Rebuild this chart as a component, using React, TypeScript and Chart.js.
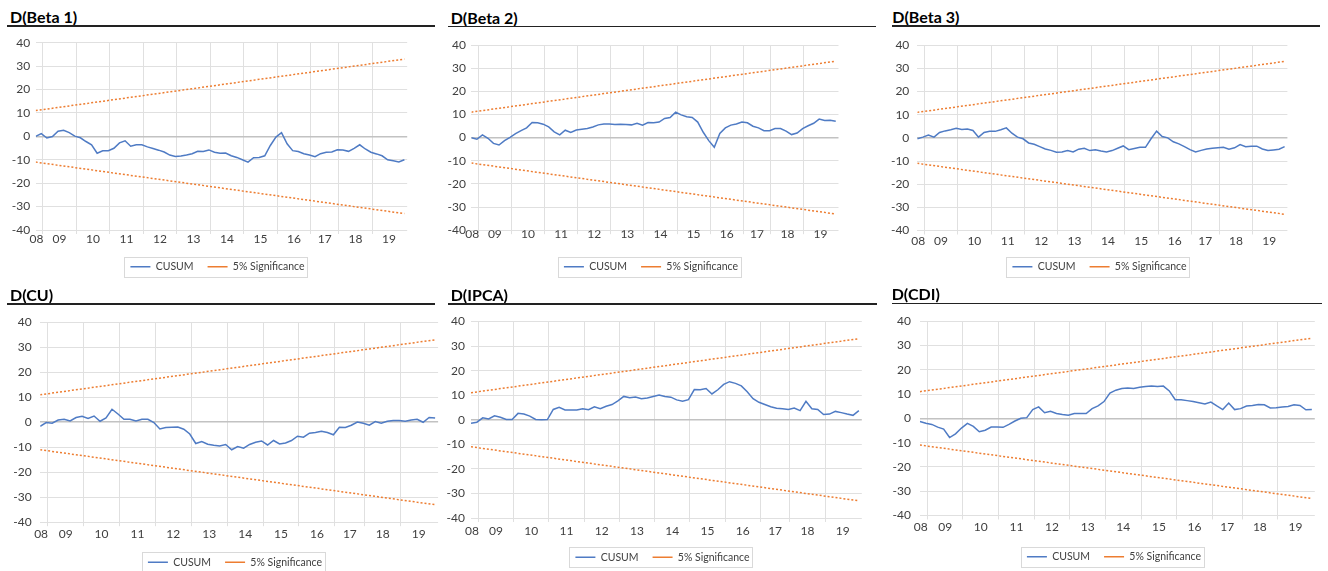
import React, { useEffect, useRef } from "react";
import { Chart, registerables } from "chart.js";

Chart.register(...registerables);

// ---------------- data ----------------
// observation index (every second monthly observation, Oct-2008 .. 2019)
const observationIndex: number[] = Array.from({ length: 67 }, (_, k) => k * 2);

const yearLabels = ["08", "09", "10", "11", "12", "13", "14", "15", "16", "17", "18", "19"];
const yearLabelPositions = [0.3, 8.5, 20.5, 32.5, 44.5, 56.5, 68.5, 80.5, 92.5, 103.5, 114.5, 126.5];
const yearBoundaries = [2.5, 14.5, 26.5, 38.5, 50.5, 62.5, 74.5, 86.5, 98.5, 108.5, 120.5];

const significanceX = [0, 132];
const significanceUpper = [11.0, 33.0];
const significanceLower = [-11.0, -33.0];

const cusumBeta1 = [
  0.0, 1.2, -0.7, -0.1, 2.2, 2.6, 1.6, 0.1, -0.6, -2.2,
  -3.6, -7.2, -6.2, -6.1, -5.1, -2.8, -1.9, -4.2, -3.6, -3.6,
  -4.5, -5.2, -5.9, -6.7, -8.0, -8.6, -8.4, -8.0, -7.4, -6.4,
  -6.5, -5.8, -6.8, -7.2, -7.1, -8.3, -9.0, -10.0, -11.0, -9.1,
  -9.0, -8.3, -3.9, -0.3, 1.6, -3.2, -6.1, -6.5, -7.4, -8.0,
  -8.7, -7.4, -6.8, -6.7, -5.7, -5.8, -6.4, -5.1, -3.6, -5.4,
  -6.8, -7.5, -8.3, -10.0, -10.4, -10.9, -10.0,
];
const cusumBeta2 = [
  -0.1, -0.7, 1.2, -0.3, -2.5, -3.2, -1.3, 0.1, 1.7, 3.0,
  4.2, 6.5, 6.4, 5.8, 4.6, 2.5, 1.2, 3.2, 2.2, 3.3,
  3.6, 3.9, 4.6, 5.5, 5.9, 5.9, 5.7, 5.8, 5.7, 5.5,
  6.2, 5.4, 6.5, 6.4, 6.7, 8.3, 8.7, 11.0, 9.8, 9.0,
  8.7, 6.7, 2.3, -1.3, -4.2, 1.8, 4.2, 5.4, 5.9, 6.7,
  6.4, 4.9, 4.2, 3.0, 3.0, 3.9, 3.9, 2.8, 1.3, 2.0,
  3.9, 5.1, 6.2, 8.0, 7.4, 7.5, 7.1,
];
const cusumBeta3 = [
  -0.4, 0.3, 1.2, 0.3, 2.3, 3.0, 3.5, 4.1, 3.6, 3.8,
  3.2, 0.3, 2.3, 2.8, 2.8, 3.5, 4.3, 2.0, 0.3, -0.4,
  -2.2, -2.8, -3.8, -4.8, -5.4, -6.2, -6.1, -5.5, -6.1, -4.9,
  -4.5, -5.5, -5.1, -5.7, -6.1, -5.5, -4.5, -3.5, -5.1, -4.6,
  -4.1, -4.1, -0.4, 2.9, 0.6, 0.0, -1.7, -2.6, -3.8, -5.1,
  -6.1, -5.4, -4.8, -4.5, -4.3, -4.1, -4.9, -4.3, -2.9, -3.8,
  -3.6, -3.6, -4.8, -5.5, -5.2, -4.9, -3.8,
];
const cusumCU = [
  -1.6, -0.1, -0.4, 0.9, 1.2, 0.5, 1.9, 2.4, 1.5, 2.5,
  0.4, 1.7, 5.2, 3.3, 1.2, 1.2, 0.5, 1.2, 1.2, -0.1,
  -2.7, -2.1, -2.0, -1.9, -2.8, -4.7, -8.5, -7.7, -8.8, -9.2,
  -9.5, -8.9, -11.0, -9.7, -10.4, -8.9, -8.0, -7.5, -9.1, -7.3,
  -8.7, -8.3, -7.3, -5.6, -6.0, -4.4, -4.1, -3.6, -4.1, -5.0,
  -2.0, -2.1, -1.2, 0.1, -0.4, -1.2, 0.3, -0.4, 0.4, 0.7,
  0.7, 0.4, 0.9, 1.2, 0.0, 1.9, 1.7,
];
const cusumIPCA = [
  -1.4, -1.0, 0.8, 0.3, 1.6, 1.0, 0.1, 0.1, 2.6, 2.3,
  1.5, 0.1, 0.0, 0.1, 4.2, 5.1, 4.0, 4.0, 4.0, 4.5,
  4.1, 5.3, 4.5, 5.5, 6.2, 7.7, 9.5, 9.0, 9.3, 8.6,
  8.9, 9.5, 10.1, 9.5, 9.2, 8.1, 7.5, 8.2, 12.3, 12.2,
  12.7, 10.5, 12.2, 14.4, 15.5, 14.8, 13.8, 11.4, 8.6, 7.1,
  6.2, 5.3, 4.7, 4.5, 4.2, 4.8, 3.7, 7.5, 4.5, 4.2,
  2.1, 2.3, 3.4, 2.9, 2.3, 1.8, 3.7,
];
const cusumCDI = [
  -1.3, -2.0, -2.5, -3.6, -4.4, -7.9, -6.4, -4.0, -2.1, -3.3,
  -5.5, -4.9, -3.6, -3.6, -3.7, -2.5, -1.1, 0.0, 0.3, 3.6,
  4.7, 2.3, 2.9, 2.0, 1.6, 1.3, 2.0, 2.0, 2.0, 4.0,
  5.1, 6.9, 10.4, 11.6, 12.3, 12.5, 12.3, 12.8, 13.1, 13.3,
  13.1, 13.3, 11.3, 7.7, 7.7, 7.3, 6.9, 6.4, 5.9, 6.7,
  5.1, 3.6, 6.3, 3.6, 4.0, 5.1, 5.3, 5.7, 5.6, 4.3,
  4.4, 4.7, 4.9, 5.6, 5.3, 3.5, 3.6,
];

const panelTitles = ["D(Beta 1)", "D(Beta 2)", "D(Beta 3)", "D(CU)", "D(IPCA)", "D(CDI)"];
const panelSeries = [cusumBeta1, cusumBeta2, cusumBeta3, cusumCU, cusumIPCA, cusumCDI];
const seriesLabels = ["CUSUM", "5% Significance"];

// ---------------- layout / style ----------------
const FONT = "Lato, 'Liberation Sans', Arial, sans-serif";
const BLUE = "#4F7BC4";
const ORANGE = "#ED7D31";
const GRID = "#e0e0e0";
const ZERO = "#c2c2c2";
const TEXT = "#404040";

type Layout = {
  left: number; top: number; width: number; height: number;
  pad: { left: number; right: number; top: number; bottom: number };
  yAxisWidth: number; rightSpacer: number; xAxisHeight: number; xTickPad: number; yTickPad: number;
  titleX: number; titleBaseline: number; ruleX1: number; ruleX2: number; ruleY: number;
};

const LAYOUTS: Layout[] = [
  { left: 0, top: 30, width: 440, height: 260, pad: { left: 0, right: 5, top: 12, bottom: 8 }, yAxisWidth: 35.7, rightSpacer: 27.8, xAxisHeight: 17.5, xTickPad: -1.8, yTickPad: 5.5, titleX: 10, titleBaseline: 22.7, ruleX1: 7, ruleX2: 435, ruleY: 26 },
  { left: 441, top: 30, width: 440, height: 260, pad: { left: 0, right: 20, top: 15, bottom: 8 }, yAxisWidth: 30.4, rightSpacer: 22.5, xAxisHeight: 17.3, xTickPad: -7, yTickPad: 5.5, titleX: 450.7, titleBaseline: 23.3, ruleX1: 448, ruleX2: 876, ruleY: 26.7 },
  { left: 884, top: 30, width: 444, height: 260, pad: { left: 0, right: 13, top: 14, bottom: 8 }, yAxisWidth: 33.3, rightSpacer: 27.6, xAxisHeight: 17, xTickPad: -0.5, yTickPad: 8, titleX: 892.3, titleBaseline: 22.7, ruleX1: 892, ruleX2: 1320, ruleY: 26 },
  { left: 0, top: 305, width: 475, height: 280, pad: { left: 0, right: 5, top: 17.3, bottom: 7.5 }, yAxisWidth: 40.2, rightSpacer: 31.9, xAxisHeight: 20.8, xTickPad: 0.5, yTickPad: 8.5, titleX: 10, titleBaseline: 300.7, ruleX1: 7, ruleX2: 435, ruleY: 304 },
  { left: 441, top: 305, width: 445, height: 280, pad: { left: 0, right: 2, top: 16.5, bottom: 12.5 }, yAxisWidth: 30, rightSpacer: 22.2, xAxisHeight: 20, xTickPad: 1.5, yTickPad: 6, titleX: 450.7, titleBaseline: 300.7, ruleX1: 448, ruleX2: 877, ruleY: 304 },
  { left: 884, top: 305, width: 460, height: 280, pad: { left: 0, right: 0, top: 11.7, bottom: 13 }, yAxisWidth: 35.9, rightSpacer: 29.2, xAxisHeight: 22, xTickPad: 0.5, yTickPad: 9, titleX: 891.7, titleBaseline: 300, ruleX1: 892, ruleX2: 1322, ruleY: 303.3 },
];

const xTickValues = [...yearBoundaries, ...yearLabelPositions].sort((a, b) => a - b);
const labelAt = (v: number) => {
  const k = yearLabelPositions.indexOf(v);
  return k >= 0 ? yearLabels[k] : "";
};

const legendBoxPlugin = {
  id: "legendBox",
  afterDraw(chart: any) {
    const lg = chart.legend;
    if (!lg || !lg.legendHitBoxes || !lg.legendHitBoxes.length) return;
    const hb = lg.legendHitBoxes;
    const left = Math.min(...hb.map((h: any) => h.left));
    const right = Math.max(...hb.map((h: any) => h.left + h.width));
    const cy = hb[0].top + hb[0].height / 2;
    const ctx = chart.ctx;
    ctx.save();
    ctx.strokeStyle = "#d9d9d9";
    ctx.lineWidth = 1;
    ctx.strokeRect(Math.round(left - 6) + 0.5, Math.round(cy - 10) + 0.5, Math.round(right - left + 9), 20);
    ctx.restore();
  },
};

function Panel({ index }: { index: number }) {
  const ref = useRef<HTMLCanvasElement | null>(null);
  const lay = LAYOUTS[index];
  useEffect(() => {
    if (!ref.current) return;
    const series = panelSeries[index];
    const chart = new Chart(ref.current, {
      type: "line",
      data: {
        datasets: [
          {
            label: seriesLabels[0],
            data: observationIndex.map((x, k) => ({ x, y: series[k] })),
            borderColor: BLUE,
            backgroundColor: BLUE,
            borderWidth: 1.5,
            pointRadius: 0,
            tension: 0,
          },
          {
            label: seriesLabels[1],
            data: significanceX.map((x, k) => ({ x, y: significanceUpper[k] })),
            borderColor: ORANGE,
            backgroundColor: ORANGE,
            borderDash: [2, 2],
            borderWidth: 1.5,
            pointRadius: 0,
          },
          {
            label: seriesLabels[1] + " (lower)",
            data: significanceX.map((x, k) => ({ x, y: significanceLower[k] })),
            borderColor: ORANGE,
            backgroundColor: ORANGE,
            borderDash: [2, 2],
            borderWidth: 1.5,
            pointRadius: 0,
          },
        ],
      },
      options: {
        animation: false,
        responsive: false,
        maintainAspectRatio: false,
        events: [],
        layout: { padding: lay.pad },
        plugins: {
          tooltip: { enabled: false },
          legend: {
            position: "bottom",
            labels: {
              boxWidth: 20,
              boxHeight: 0,
              padding: 14,
              color: TEXT,
              font: { family: FONT, size: 10.5 },
              filter: (item: any) => item.datasetIndex < 2,
            },
          },
        },
        scales: {
          x: {
            type: "linear",
            min: 0,
            max: 133,
            afterBuildTicks: (scale: any) => {
              scale.ticks = xTickValues.map((v) => ({ value: v }));
            },
            afterFit: (scale: any) => {
              scale.height = lay.xAxisHeight;
            },
            ticks: {
              autoSkip: false,
              maxRotation: 0,
              minRotation: 0,
              padding: lay.xTickPad,
              color: TEXT,
              font: { family: FONT, size: 12 },
              callback: (v: any) => labelAt(Number(v)),
            },
            grid: {
              color: (c: any) => (c.tick && yearBoundaries.includes(c.tick.value) ? GRID : "rgba(0,0,0,0)"),
              lineWidth: 1,
              drawTicks: true,
              tickLength: 4,
            },
            border: { display: false },
          },
          y: {
            min: -40,
            max: 40,
            afterFit: (scale: any) => {
              scale.width = lay.yAxisWidth;
            },
            ticks: {
              stepSize: 10,
              padding: lay.yTickPad,
              color: TEXT,
              font: { family: FONT, size: 12 },
            },
            grid: {
              color: (c: any) => (c.tick && c.tick.value === 0 ? ZERO : GRID),
              lineWidth: (c: any) => (c.tick && c.tick.value === 0 ? 1.6 : 1),
              drawTicks: false,
            },
            border: { display: false },
          },
          ySpacer: {
            type: "linear",
            position: "right",
            display: true,
            afterFit: (scale: any) => {
              scale.width = lay.rightSpacer;
            },
            ticks: { display: false },
            grid: { display: false, drawTicks: false },
            border: { display: false },
          },
        },
      } as any,
      plugins: [legendBoxPlugin],
    });
    return () => chart.destroy();
  }, [index]);

  return (
    <>
      <div
        style={{
          position: "absolute",
          left: lay.titleX,
          top: lay.titleBaseline - 15.8,
          font: `700 16px ${FONT}`,
          lineHeight: "19px",
          color: "#000",
          whiteSpace: "nowrap",
        }}
      >
        {panelTitles[index]}
      </div>
      <div
        style={{
          position: "absolute",
          left: lay.ruleX1,
          top: lay.ruleY - 0.75,
          width: lay.ruleX2 - lay.ruleX1,
          height: 1.5,
          background: "#222",
        }}
      />
      <canvas
        ref={ref}
        width={lay.width}
        height={lay.height}
        style={{ position: "absolute", left: lay.left, top: lay.top, width: lay.width, height: lay.height }}
      />
    </>
  );
}

export default function App() {
  return (
    <div
      style={{
        position: "fixed",
        left: 0,
        top: 0,
        width: 1328,
        height: 571,
        overflow: "hidden",
        background: "#fff",
      }}
    >
      {panelTitles.map((_, i) => (
        <Panel key={i} index={i} />
      ))}
    </div>
  );
}
